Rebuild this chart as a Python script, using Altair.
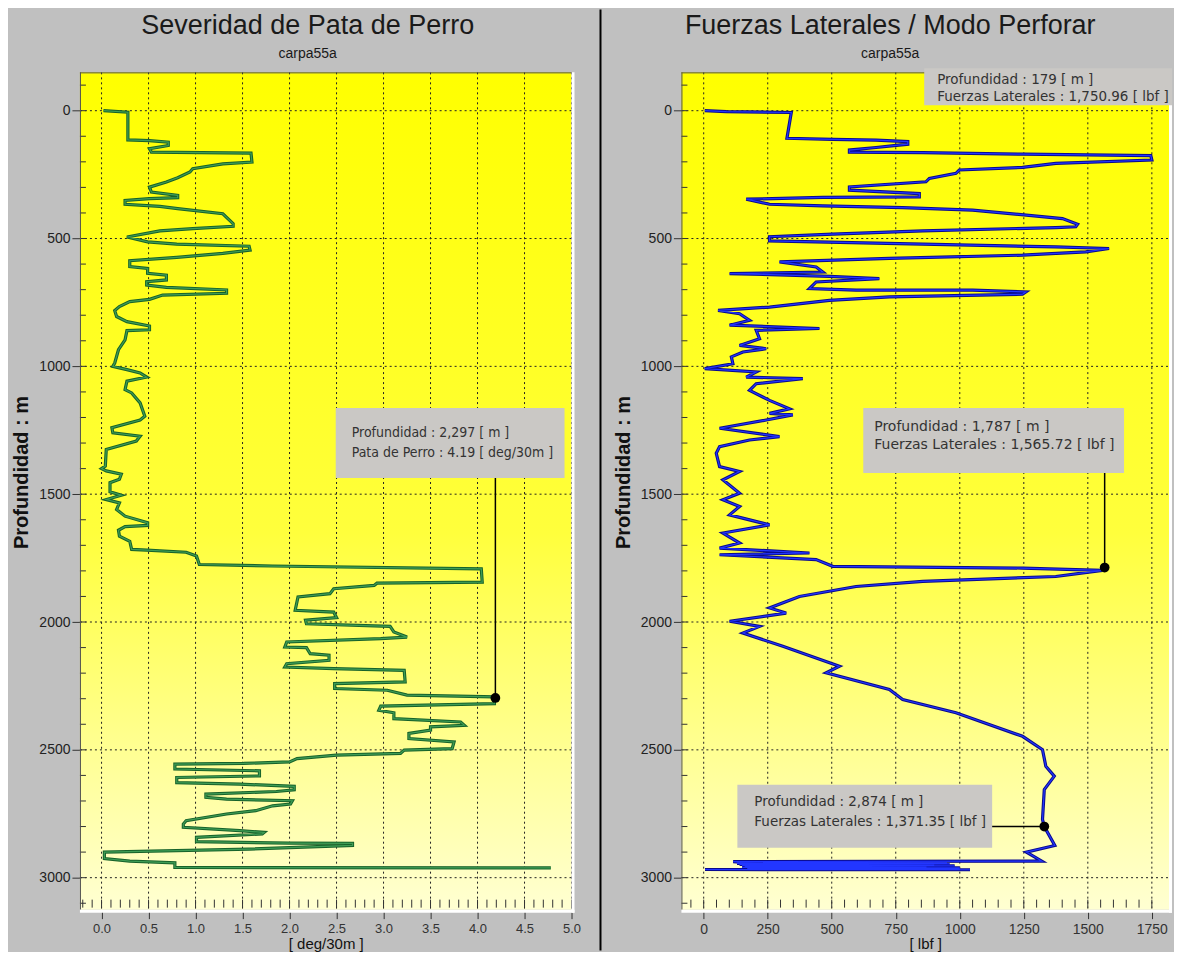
import altair as alt
import pandas as pd

# ---------------- data ----------------
# Dog-leg severity trace (deg/30m) vs depth (m), in drawing order
dls_value = [0.02, 0.28, 0.28, 0.51, 0.71, 0.71, 0.51, 0.53, 1.59, 1.60,
             1.29, 0.97, 0.94, 0.81, 0.69, 0.51, 0.53, 0.81, 0.81, 0.51,
             0.25, 0.25, 0.62, 0.81, 1.29, 1.40, 1.40, 0.97, 0.62, 0.27,
             0.49, 0.80, 1.57, 1.58, 1.29, 0.80, 0.30, 0.30, 0.49, 0.49,
             0.69, 0.69, 0.48, 0.48, 0.69, 1.33, 1.33, 0.65, 0.51, 0.30,
             0.19, 0.14, 0.16, 0.27, 0.51, 0.51, 0.27, 0.25, 0.18, 0.14,
             0.12, 0.27, 0.41, 0.48, 0.27, 0.25, 0.32, 0.41, 0.46, 0.41,
             0.11, 0.12, 0.41, 0.37, 0.05, 0.04, 0.00, 0.05, 0.21, 0.19,
             0.09, 0.09, 0.21,
             0.05, 0.19, 0.16, 0.25, 0.49, 0.49, 0.25, 0.18, 0.19, 0.30,
             0.32, 0.48, 0.90, 1.01, 1.04, 1.82,
             4.04, 4.05, 2.93, 2.90, 2.47, 2.43, 2.09, 2.06, 2.47, 2.50,
             2.17, 2.18, 3.07, 3.11, 3.25, 2.97, 1.97, 1.95, 2.18, 2.22,
             2.42, 2.42, 1.97, 1.95, 2.47, 3.22, 3.23, 2.48, 2.48, 3.04,
             3.25, 4.18, 4.18, 2.97, 2.95, 3.11, 3.11, 3.82, 3.86, 3.50,
             3.50, 3.27, 3.27, 3.75, 3.73, 3.22, 3.18, 2.50, 2.08, 2.00,
             1.51,
             0.78, 0.78, 1.68, 1.68, 0.80, 0.80, 1.47, 2.05, 2.05, 1.86,
             1.11, 1.11, 1.33, 2.03, 2.01, 1.82, 1.64, 1.33, 0.90, 0.87,
             0.87, 1.47, 1.73, 1.71, 1.01, 1.01, 2.00, 2.67, 2.67, 1.57,
             0.03, 0.03, 0.30, 0.78, 0.78, 4.78]
dls_depth = [0, 6, 114, 117, 123, 136, 149, 162, 166, 201,
             208, 227, 240, 262, 279, 299, 318, 331, 340, 344,
             351, 366, 374, 383, 403, 442, 452, 461, 470, 494,
             513, 522, 530, 545, 558, 574, 587, 610, 617, 636,
             643, 662, 669, 682, 691, 701, 714, 721, 738, 747,
             766, 782, 805, 825, 842, 857, 860, 896, 935, 987,
             1000, 1013, 1026, 1042, 1058, 1091, 1104, 1143, 1195, 1210,
             1240, 1260, 1273, 1292, 1325, 1390, 1400, 1409, 1422, 1442,
             1455, 1491, 1504,
             1521, 1534, 1560, 1586, 1612, 1622, 1627, 1641, 1664, 1684,
             1716, 1719, 1727, 1742, 1775, 1781,
             1792, 1844, 1848, 1857, 1870, 1889, 1902, 1954, 1961, 1983,
             1993, 2007, 2017, 2039, 2059, 2065, 2078, 2098, 2100, 2124,
             2130, 2150, 2163, 2176, 2182, 2189, 2234, 2241, 2260, 2267,
             2286, 2293, 2319, 2329, 2345, 2355, 2378, 2391, 2404, 2410,
             2423, 2436, 2456, 2469, 2495, 2501, 2514, 2521, 2534, 2547,
             2553,
             2556, 2575, 2582, 2602, 2608, 2628, 2634, 2643, 2656, 2663,
             2673, 2686, 2693, 2699, 2712, 2719, 2738, 2751, 2777, 2790,
             2803, 2816, 2823, 2829, 2842, 2859, 2865, 2866, 2874, 2888,
             2900, 2925, 2935, 2942, 2960, 2962]

# Lateral force trace (lbf) vs depth (m), in drawing order
lf_value = [4, 88, 342, 325, 504, 673, 797, 797, 673, 569,
            569, 856, 1246, 1583, 1746, 1750, 1375, 1245, 998, 985,
            881, 868, 569, 569, 842, 842, 465, 166, 257, 465,
            777, 1050, 1401, 1460, 1453, 1375, 855, 504, 257, 257,
            855, 1375, 1583, 1492, 1245, 725, 296, 439, 465, 101,
            491, 686, 439, 413, 595, 1050, 1258, 1245, 725, 491,
            257, 56, 140, 179, 101, 452, 205, 218, 140, 244,
            153, 108, 114, 4, 205, 166, 387, 205, 179, 257,
            335,
            257, 348, 244, 62, 296, 179, 62, 49, 62, 140,
            75, 140, 75, 140, 101, 257, 75, 140, 62, 413,
            62, 439, 504, 1245, 1557, 1375, 855, 595, 374, 257,
            322, 101, 218, 153, 309, 530, 478, 725, 777, 985,
            1245, 1323, 1336, 1369, 1330, 1323,
            1330, 1371, 1260, 1320, 115, 150, 950, 130, 960, 140,
            900, 150, 980, 160, 870, 150, 1000, 170, 1000, 5,
            1040]
lf_depth = [0, 4, 7, 108, 112, 115, 121, 131, 144, 154,
            162, 164, 170, 174, 176, 193, 206, 222, 232, 245,
            265, 278, 298, 311, 324, 337, 339, 346, 366, 372,
            379, 389, 422, 444, 454, 457, 470, 483, 493, 509,
            522, 533, 539, 552, 565, 578, 591, 611, 631, 637,
            648, 657, 670, 696, 702, 702, 709, 718, 728, 742,
            768, 781, 794, 820, 839, 852, 859, 892, 918, 931,
            944, 963, 990, 1009, 1022, 1042, 1048, 1068, 1094, 1133,
            1166,
            1184, 1190, 1210, 1242, 1275, 1288, 1314, 1340, 1392, 1411,
            1444, 1496, 1522, 1548, 1581, 1620, 1652, 1691, 1711, 1730,
            1737, 1756, 1782, 1789, 1798, 1822, 1841, 1861, 1900, 1945,
            1965, 1997, 2017, 2043, 2095, 2173, 2199, 2264, 2303, 2355,
            2447, 2499, 2564, 2603, 2655, 2772,
            2800, 2874, 2900, 2935, 2937, 2940, 2942, 2944, 2946, 2948,
            2950, 2952, 2954, 2956, 2958, 2960, 2962, 2964, 2966, 2968,
            2969]

# axis ticks
dls_ticks = [0.0, 0.5, 1.0, 1.5, 2.0, 2.5, 3.0, 3.5, 4.0, 4.5, 5.0]
lf_ticks = [0, 250, 500, 750, 1000, 1250, 1500, 1750]
depth_ticks = [0, 500, 1000, 1500, 2000, 2500, 3000]
dls_minor = [round(-0.2 + 0.1 * i, 1) for i in range(53)]
lf_minor = [-50 + 50 * i for i in range(37)]
depth_minor = [-100 + 100 * i for i in range(33)]

# annotation read-outs (label values)
dls_note_depth = [2297]
dls_note_value = [4.19]
lf_note_depth = [179, 1787, 2874]
lf_note_value = [1750.96, 1565.72, 1371.35]
# where the markers sit on the curves
dls_dot_depth = [2297]
dls_dot_value = [4.19]
lf_dot_depth = [1787, 2800]
lf_dot_value = [1565.72, 1330]

# ---------------- layout / style ----------------
H = 838
DEPTH_DOMAIN = [-150, 3125]
FONT = "Liberation Sans"
ANN_FONT = "DejaVu Sans"
ANN_COND = "DejaVu Sans Condensed"
GRAD = {"gradient": "linear", "x1": 0, "x2": 0, "y1": 0, "y2": 1,
        "stops": [{"offset": 0, "color": "#ffff00"},
                  {"offset": 0.55, "color": "#ffff3c"},
                  {"offset": 1, "color": "#ffffd2"}]}
ONE = pd.DataFrame({"k": [0]})


def rule(x, x2, y, y2, color, width):
    return alt.Chart(ONE).mark_rule(color=color, strokeWidth=width).encode(
        x=alt.value(x), x2=alt.value(x2), y=alt.value(y), y2=alt.value(y2))


def box(x, x2, y, y2):
    return alt.Chart(ONE).mark_rect(fill="#cac8c5").encode(
        x=alt.value(x), x2=alt.value(x2), y=alt.value(y), y2=alt.value(y2))


def label(text, x, y, size, font=ANN_FONT, align="left", color="#333333",
          baseline="middle"):
    return alt.Chart(pd.DataFrame({"t": [text]})).mark_text(
        align=align, baseline=baseline, font=font, fontSize=size,
        color=color).encode(x=alt.value(x), y=alt.value(y), text="t:N")


def make_axes(xdom, xticks, xfmt, xtitle, xlabsize, xtitlepad):
    xs = alt.Scale(domain=xdom, nice=False, zero=False)
    ys = alt.Scale(domain=DEPTH_DOMAIN, nice=False, zero=False, reverse=True)
    xaxis = alt.Axis(values=xticks, format=xfmt, grid=False, domain=False,
                     tickSize=9, tickColor="#333333", labelFont=FONT,
                     labelFontSize=xlabsize, labelColor="#333333", labelPadding=4,
                     labelFlush=False, title=xtitle, titleFont=FONT,
                     titleFontSize=15, titleFontWeight="normal",
                     titleColor="#111111", titlePadding=xtitlepad,
                     labelOverlap=False)
    yaxis = alt.Axis(values=depth_ticks, format="d", grid=False, domain=False,
                     tickSize=8, tickColor="#333333", labelFont=FONT,
                     labelFontSize=14, labelColor="#222222", labelPadding=2,
                     labelFlush=False, title="Profundidad : m", titleFont=FONT,
                     titleFontSize=20, titleFontWeight="bold",
                     titleColor="#111111", titleX=-58, titleY=400,
                     titleAngle=270, titleAlign="center",
                     titleBaseline="middle", labelOverlap=False)

    def X(f):
        return alt.X(f, scale=xs, axis=xaxis)

    def Y(f):
        return alt.Y(f, scale=ys, axis=yaxis)
    return X, Y


def base_layers(values, depths, W, X, Y, xticks, xminor, outer, inner):
    trace = pd.DataFrame({"v": values, "d": depths, "i": list(range(len(values)))})
    bg = alt.Chart(ONE).mark_rect(fill=GRAD).encode(
        x=alt.value(0), x2=alt.value(W), y=alt.value(0), y2=alt.value(H))
    vgrid = alt.Chart(pd.DataFrame({"v": xticks})).mark_rule(
        color="#222222", strokeDash=[2, 3], strokeWidth=1).encode(
        x=X("v:Q"), y=alt.value(0), y2=alt.value(H))
    hgrid = alt.Chart(pd.DataFrame({"d": depth_ticks})).mark_rule(
        color="#222222", strokeDash=[2, 3], strokeWidth=1).encode(
        y=Y("d:Q"), x=alt.value(0), x2=alt.value(W))
    xmin = alt.Chart(pd.DataFrame({"v": xminor})).mark_rule(
        color="#333333", strokeWidth=1).encode(
        x=X("v:Q"), y=alt.value(H - 10), y2=alt.value(H - 2))
    ymin = alt.Chart(pd.DataFrame({"d": depth_minor})).mark_rule(
        color="#333333", strokeWidth=1).encode(
        y=Y("d:Q"), x=alt.value(0), x2=alt.value(6))
    line_outer = alt.Chart(trace).mark_line(color=outer, strokeWidth=3.2).encode(
        x=X("v:Q"), y=Y("d:Q"), order="i:Q")
    line_inner = alt.Chart(trace).mark_line(color=inner, strokeWidth=1.2).encode(
        x=X("v:Q"), y=Y("d:Q"), order="i:Q")
    edges = [rule(0, W, 0.5, 0.5, "#505050", 1),
             rule(0.5, 0.5, 0, H, "#505050", 1),
             rule(W + 1.5, W + 1.5, 0, H + 3, "#ffffff", 3),
             rule(0, W + 3, H + 1.5, H + 1.5, "#ffffff", 3)]
    return [bg, vgrid, hgrid, xmin, ymin, line_outer, line_inner] + edges


def titles(text, cx):
    return [label(text, cx, -38, 27, font=FONT, align="center",
                  color="#1a1a1a", baseline="alphabetic"),
            label("carpa55a", cx, -14, 14, font=FONT, align="center",
                  color="#1a1a1a", baseline="alphabetic")]


# ---------------- left panel ----------------
WL = 492
XL, YL = make_axes([-0.23, 5.0], dls_ticks, ".1f", "[ deg/30m ]", 13, 1)
base_l = base_layers(dls_value, dls_depth, WL, XL, YL, dls_ticks, dls_minor,
                     "#17622a", "#3f9d55")
dot_l_df = pd.DataFrame({"v": dls_dot_value, "d": dls_dot_depth})
lead_l = alt.Chart(dot_l_df).mark_rule(color="black", strokeWidth=1.5).encode(
    x=XL("v:Q"), y=YL("d:Q"), y2=alt.value(406))
dot_l = alt.Chart(dot_l_df).mark_circle(color="black", size=95, opacity=1).encode(
    x=XL("v:Q"), y=YL("d:Q"))
ann_l = [box(256, 485, 336, 406),
         label(f"Profundidad : {dls_note_depth[0]:,} [ m ]", 272, 361, 14, font=ANN_COND),
         label(f"Pata de Perro : {dls_note_value[0]:.2f} [ deg/30m ]", 272, 381, 14, font=ANN_COND),
         lead_l, dot_l]
frame_l = [rule(-71.5, -71.5, -63, 870, "#c0c0c0", 1),
           rule(521, 521, -63, 879, "#000000", 2)]
left = alt.layer(*(base_l + ann_l + titles("Severidad de Pata de Perro", 228) + frame_l)
                 ).properties(width=WL, height=H)

# ---------------- right panel ----------------
WR = 488
XR, YR = make_axes([-87, 1817], lf_ticks, "d", "[ lbf ]", 14, 0)
base_r = base_layers(lf_value, lf_depth, WR, XR, YR, lf_ticks, lf_minor,
                     "#0a0a8c", "#2236ff")
dot_r_df = pd.DataFrame({"v": lf_dot_value, "d": lf_dot_depth})
lead_r1 = alt.Chart(dot_r_df.iloc[[0]]).mark_rule(color="black", strokeWidth=1.5).encode(
    x=XR("v:Q"), y=YR("d:Q"), y2=alt.value(401))
lead_r2 = alt.Chart(dot_r_df.iloc[[1]]).mark_rule(color="black", strokeWidth=1.5).encode(
    x=XR("v:Q"), y=YR("d:Q"), x2=alt.value(311))
dot_r = alt.Chart(dot_r_df).mark_circle(color="black", size=95, opacity=1).encode(
    x=XR("v:Q"), y=YR("d:Q"))


def lf_lines(k):
    return (f"Profundidad : {lf_note_depth[k]:,} [ m ]",
            f"Fuerzas Laterales : {lf_note_value[k]:,.2f} [ lbf ]")


t0, t1, t2 = lf_lines(0), lf_lines(1), lf_lines(2)
ann_r = [box(243, 491, -4, 33),
         label(t0[0], 256, 8, 13.5), label(t0[1], 256, 25, 13.5),
         box(182, 443, 336, 401),
         label(t1[0], 193, 355, 14), label(t1[1], 193, 373, 14),
         box(56, 311, 713, 776),
         label(t2[0], 73, 730, 13.5),
         label(t2[1], 73, 750, 13.5),
         lead_r1, lead_r2, dot_r]
right = alt.layer(*(base_r + ann_r + titles("Fuerzas Laterales / Modo Perforar", 209))
                  ).properties(width=WR, height=H)

chart = alt.hconcat(left, right, spacing=110, bounds="flush").properties(
    padding={"left": 0, "top": 0, "right": 0, "bottom": 0}
).configure(background="#c0c0c0").configure_view(stroke=None)

chart.save("out.html", embed_options={"renderer": "svg", "actions": False})
